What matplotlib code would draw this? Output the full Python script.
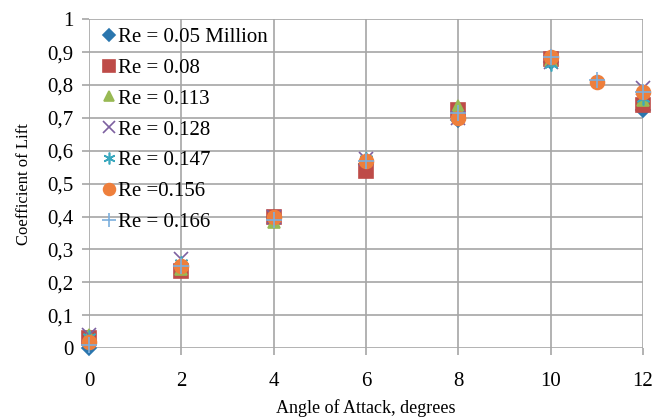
import matplotlib.pyplot as plt
from matplotlib.ticker import FuncFormatter

plt.rcParams['font.family'] = ['Liberation Serif', 'DejaVu Serif']

angles = [0, 2, 4, 6, 8, 10, 12]
angles_156 = [0, 2, 4, 6, 8, 10, 11, 12]

cl_005 = [0.0, 0.25, 0.40, 0.56, 0.695, 0.87, 0.725]
cl_008 = [0.03, 0.235, 0.40, 0.54, 0.725, 0.88, 0.74]
cl_0113 = [0.04, 0.24, 0.385, 0.575, 0.735, 0.875, 0.755]
cl_0128 = [0.04, 0.27, 0.40, 0.575, 0.70, 0.87, 0.79]
cl_0147 = [0.035, 0.26, 0.40, 0.575, 0.70, 0.865, 0.76]
cl_0156 = [0.02, 0.25, 0.40, 0.57, 0.70, 0.885, 0.81, 0.78]
cl_0166 = [0.01, 0.25, 0.39, 0.57, 0.715, 0.885, 0.815, 0.78]

labels = ["Re = 0.05 Million", "Re = 0.08", "Re = 0.113", "Re = 0.128",
          "Re = 0.147", "Re =0.156", "Re = 0.166"]

series = [
    (angles, cl_005, "D", "#2A76AE", 7),
    (angles, cl_008, "s", "#BE4B48", 10),
    (angles, cl_0113, "^", "#98B954", 9),
    (angles, cl_0128, "x", "#7D60A0", 10),
    (angles, cl_0147, (6, 2, 0), "#3AA8BE", 10),
    (angles_156, cl_0156, "o", "#EE7F3C", 10),
    (angles_156, cl_0166, "+", "#7CAFDD", 12),
]

fig = plt.figure(figsize=(6.71, 4.17), dpi=100)
ax = fig.add_axes([0.1326, 0.165, 0.8254, 0.789])

for (x, y, marker, color, size), label in zip(series, labels):
    ax.plot(x, y, linestyle="none", marker=marker, color=color,
            markersize=size, markeredgewidth=1.2, label=label, clip_on=False)

ax.set_xlim(0, 12)
ax.set_ylim(0, 1)
ax.set_xticks(range(0, 13, 2))
ax.set_yticks([i / 10 for i in range(11)])
ax.yaxis.set_major_formatter(FuncFormatter(
    lambda v, _: ("%g" % round(v, 1)).replace(".", ",")))

ax.grid(True, color="#A6A6A6", linewidth=1.2)
ax.set_axisbelow(True)
for s in ax.spines.values():
    s.set_visible(False)
ax.tick_params(direction="out", length=5, color="#A6A6A6", width=1.2,
               labelsize=15)
ax.tick_params(axis="x", pad=12)
ax.tick_params(axis="y", pad=6)

ax.set_xlabel("Angle of Attack, degrees", fontsize=13, labelpad=6)
ax.set_ylabel("Coefficient of Lift", fontsize=12, labelpad=11)

ax.legend(loc="upper left", frameon=False, fontsize=15, handletextpad=-0.1,
          labelspacing=0.54, borderaxespad=0.0, borderpad=0.4,
          handlelength=1.1, markerscale=0.85)

fig.savefig("out.png", dpi=100)
